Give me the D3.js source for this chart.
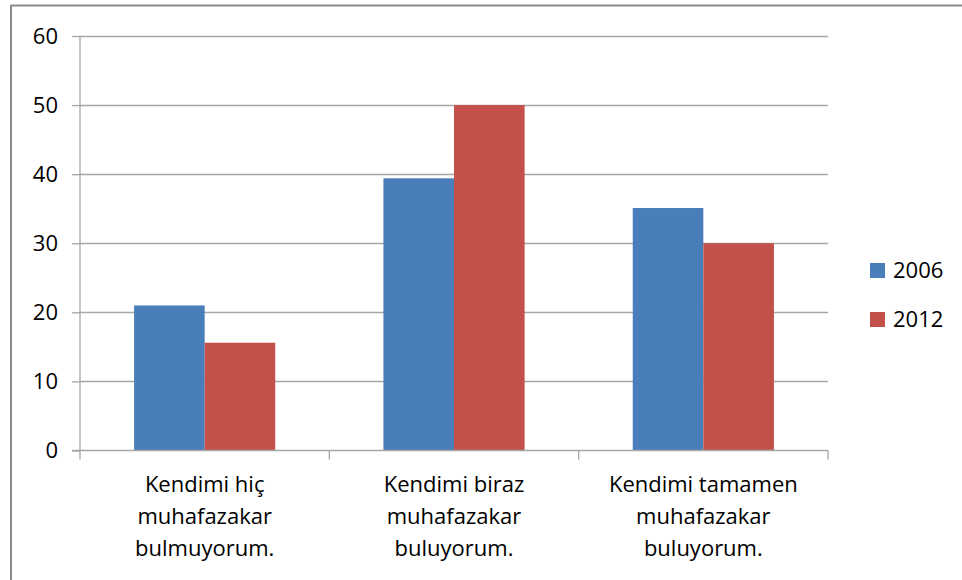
<!DOCTYPE html>
<html>
<head>
<meta charset="utf-8">
<script src="https://cdn.jsdelivr.net/npm/d3@7"></script>
<style>
  html, body { margin: 0; padding: 0; background: #fff; }
  svg { display: block; font-family: "Open Sans", sans-serif; }
</style>
</head>
<body>
<svg id="chart" width="962" height="580"></svg>
<script>
const categories = [
  ["Kendimi hiç", "muhafazakar", "bulmuyorum."],
  ["Kendimi biraz", "muhafazakar", "buluyorum."],
  ["Kendimi tamamen", "muhafazakar", "buluyorum."]
];
const seriesNames = ["2006", "2012"];
const values2006 = [21.0, 39.4, 35.1];
const values2012 = [15.6, 50.0, 30.0];
const yTicks = [0, 10, 20, 30, 40, 50, 60];
const colors = ["#4a7ebb", "#c4504a"];

const svg = d3.select("#chart");
const plotLeft = 80, plotRight = 828, plotTop = 36, plotBottom = 450.5;
const fontSize = "22px";

// outer frame (only top and left edges show)
svg.append("line").attr("x1", 11).attr("x2", 962).attr("y1", 5.5).attr("y2", 5.5)
  .attr("stroke", "#8a8a8a").attr("stroke-width", 2);
svg.append("line").attr("x1", 11).attr("x2", 11).attr("y1", 5).attr("y2", 580)
  .attr("stroke", "#8a8a8a").attr("stroke-width", 2);

const y = d3.scaleLinear().domain([0, 60]).range([plotBottom, plotTop]);
const x0 = d3.scaleBand().domain(d3.range(categories.length)).range([plotLeft, plotRight]).padding(0);
const x1 = d3.scaleBand().domain(seriesNames).range([0, x0.bandwidth()])
  .paddingInner(0).paddingOuter(0.766);

// gridlines
svg.append("g").selectAll("line").data(yTicks.filter(d => d > 0)).join("line")
  .attr("x1", plotLeft).attr("x2", plotRight)
  .attr("y1", d => Math.round(y(d)) + 0.5).attr("y2", d => Math.round(y(d)) + 0.5)
  .attr("stroke", "#a6a6a6").attr("stroke-width", 1.3);

// y axis
const yAxis = svg.append("g").attr("transform", `translate(${plotLeft},0)`)
  .call(d3.axisLeft(y).tickValues(yTicks).tickSize(8).tickPadding(14).tickFormat(d3.format("d")));
yAxis.select(".domain").remove();
yAxis.append("line").attr("x1", 0).attr("x2", 0).attr("y1", plotTop).attr("y2", plotBottom)
  .attr("stroke", "#a6a6a6").attr("stroke-width", 1.3);
yAxis.selectAll(".tick line").attr("stroke", "#a6a6a6").attr("stroke-width", 1.3);
yAxis.selectAll(".tick text").attr("fill", "#000").style("font-size", fontSize)
  .style("font-family", "Open Sans, sans-serif");

// bars
const groups = svg.append("g").selectAll("g").data(categories.map((c, i) => i)).join("g")
  .attr("transform", i => `translate(${x0(i)},0)`);
groups.selectAll("rect")
  .data(i => [{k: "2006", v: values2006[i]}, {k: "2012", v: values2012[i]}])
  .join("rect")
  .attr("x", d => x1(d.k))
  .attr("width", x1.bandwidth())
  .attr("y", d => y(d.v))
  .attr("height", d => y(0) - y(d.v))
  .attr("fill", (d, i) => colors[i]);

// x axis
const xAxis = svg.append("g").attr("transform", `translate(0,${plotBottom})`);
xAxis.append("line").attr("x1", plotLeft - 8).attr("x2", plotRight).attr("y1", 0).attr("y2", 0)
  .attr("stroke", "#a6a6a6").attr("stroke-width", 1.3);
xAxis.selectAll("line.tk").data(d3.range(categories.length + 1)).join("line").attr("class", "tk")
  .attr("x1", i => plotLeft + i * x0.step()).attr("x2", i => plotLeft + i * x0.step())
  .attr("y1", 0).attr("y2", 9)
  .attr("stroke", "#a6a6a6").attr("stroke-width", 1.3);

const labels = svg.append("g").selectAll("text").data(categories).join("text")
  .attr("x", (d, i) => x0(i) + x0.bandwidth() / 2)
  .attr("y", 492)
  .attr("text-anchor", "middle")
  .style("font-size", fontSize).attr("fill", "#000");
labels.selectAll("tspan").data(d => d).join("tspan")
  .attr("x", function () { return this.parentNode.getAttribute("x"); })
  .attr("dy", (d, i) => i === 0 ? 0 : 32)
  .text(d => d);

// legend
const legend = svg.append("g").selectAll("g").data(seriesNames).join("g")
  .attr("transform", (d, i) => `translate(870,${263 + i * 49})`);
legend.append("rect").attr("width", 15).attr("height", 15).attr("fill", (d, i) => colors[i]);
legend.append("text").attr("x", 23).attr("y", 15).style("font-size", fontSize).attr("fill", "#000")
  .text(d => d);
</script>
</body>
</html>
